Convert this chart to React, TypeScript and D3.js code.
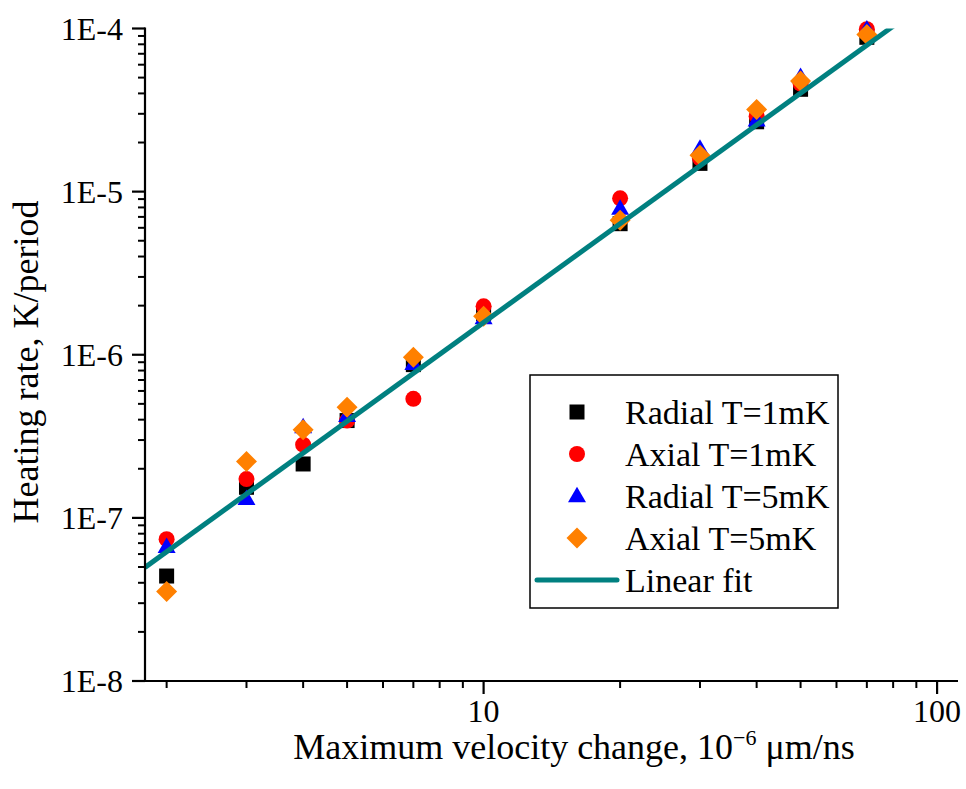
import React from "react";
import * as d3 from "d3";

const xValues = [2, 3, 4, 5, 7, 10, 20, 30, 40, 50, 70];
const radial1mK = [4.4e-8, 1.54e-7, 2.14e-7, 3.95e-7, 8.7e-7, 1.79e-6, 6.36e-6, 1.49e-5, 2.68e-5, 4.24e-5, 8.83e-5];
const axial1mK = [7.4e-8, 1.73e-7, 2.81e-7, 3.95e-7, 5.37e-7, 1.98e-6, 9.1e-6, 1.6e-5, 2.9e-5, 4.6e-5, 9.9e-5];
const radial5mK = [6.65e-8, 1.31e-7, 3.6e-7, 4.23e-7, 8.8e-7, 1.68e-6, 7.87e-6, 1.84e-5, 2.74e-5, 5.06e-5, 9.9e-5];
const axial5mK = [3.54e-8, 2.22e-7, 3.47e-7, 4.77e-7, 9.66e-7, 1.72e-6, 6.67e-6, 1.67e-5, 3.19e-5, 4.77e-5, 9.2e-5];

const fitSlope = 2.011;
const fitIntercept = -7.813;

const seriesNames = ["Radial T=1mK", "Axial T=1mK", "Radial T=5mK", "Axial T=5mK"];
const xTickLabels = ["10", "100"];
const yTickLabels = ["1E-8", "1E-7", "1E-6", "1E-5", "1E-4"];

const W = 966;
const H = 789;
const M = { left: 145, right: 958, top: 28.5, bottom: 681 };
const FONT = "'Liberation Serif', 'Times New Roman', serif";

const colors = ["#000000", "#ff0000", "#0000ff", "#ff8000"];
const shapes = ["square", "circle", "triangle", "diamond"];

function Marker({ shape, x, y, color }: { shape: string; x: number; y: number; color: string }) {
  if (shape === "square") return <rect x={x - 7.5} y={y - 7.5} width={15} height={15} fill={color} />;
  if (shape === "circle") return <circle cx={x} cy={y} r={8} fill={color} />;
  if (shape === "triangle") {
    const h = 15.5;
    return <path d={`M${x},${y - h * 0.6}L${x + 9},${y + h * 0.4}L${x - 9},${y + h * 0.4}Z`} fill={color} />;
  }
  const r = 10.5;
  return <path d={`M${x},${y - r}L${x + r},${y}L${x},${y + r}L${x - r},${y}Z`} fill={color} />;
}

export default function App() {
  const x = d3.scaleLog().domain([1.792, 111.2]).range([M.left, M.right]);
  const y = d3.scaleLog().domain([1e-8, 1e-4]).range([M.bottom, M.top]);

  const series = [radial1mK, axial1mK, radial5mK, axial5mK];

  const xMajor = [10, 100];
  const xMinor: number[] = [];
  [1, 10].forEach((d) => {
    for (let k = 2; k <= 9; k++) {
      const v = k * d;
      if (v >= 1.792 && v <= 111.2) xMinor.push(v);
    }
  });
  const yMajor = [1e-8, 1e-7, 1e-6, 1e-5, 1e-4];
  const yMinor: number[] = [];
  [1e-8, 1e-7, 1e-6, 1e-5].forEach((d) => {
    for (let k = 2; k <= 9; k++) yMinor.push(k * d);
  });

  const fitX = [1.792, 111.2];
  const fitLine = d3
    .line<number>()
    .x((d) => x(d))
    .y((d) => y(Math.pow(10, fitIntercept + fitSlope * Math.log10(d))));

  const legX = 530;
  const legY = 375;
  const rowH = 42;

  return (
    <svg width={W} height={H} style={{ position: "absolute", left: 0, top: 0, background: "#fff" }} fontFamily={FONT}>
      <defs>
        <clipPath id="plotclip">
          <rect x={M.left} y={M.top} width={M.right - M.left} height={M.bottom - M.top} />
        </clipPath>
      </defs>
      {series.map((vals, si) => (
        <g key={si}>
          {vals.map((v, i) => (
            <Marker key={i} shape={shapes[si]} x={x(xValues[i])} y={y(v)} color={colors[si]} />
          ))}
        </g>
      ))}
      <path d={fitLine(fitX) || ""} stroke="#008080" strokeWidth={5} fill="none" clipPath="url(#plotclip)" />
      <line x1={M.left} x2={M.left} y1={M.top - 1} y2={M.bottom + 1} stroke="#000" strokeWidth={2.2} />
      <line x1={M.left - 1} x2={M.right} y1={M.bottom} y2={M.bottom} stroke="#000" strokeWidth={2.2} />
      {xMajor.map((v) => (
        <line key={"xM" + v} x1={x(v)} x2={x(v)} y1={M.bottom} y2={M.bottom + 13} stroke="#000" strokeWidth={2.2} />
      ))}
      {xMinor.map((v) => (
        <line key={"xm" + v} x1={x(v)} x2={x(v)} y1={M.bottom} y2={M.bottom + 7} stroke="#000" strokeWidth={2} />
      ))}
      {yMajor.map((v) => (
        <line key={"yM" + v} x1={M.left - 13} x2={M.left} y1={y(v)} y2={y(v)} stroke="#000" strokeWidth={2.2} />
      ))}
      {yMinor.map((v) => (
        <line key={"ym" + v} x1={M.left - 7} x2={M.left} y1={y(v)} y2={y(v)} stroke="#000" strokeWidth={2} />
      ))}
      {xMajor.map((v, i) => (
        <text key={"xl" + v} x={x(v)} y={722} fontSize={32} textAnchor="middle" fill="#000">
          {xTickLabels[i]}
        </text>
      ))}
      {yMajor.map((v, i) => (
        <text key={"yl" + v} x={123} y={y(v)} dy="0.35em" fontSize={32} textAnchor="end" fill="#000">
          {yTickLabels[i]}
        </text>
      ))}
      <text x={574} y={759} fontSize={36} textAnchor="middle" fill="#000">
        Maximum velocity change, 10
        <tspan fontSize={22} dy={-14}>−6</tspan>
        <tspan dy={14}> μm/ns</tspan>
      </text>
      <text transform="translate(38,362) rotate(-90)" fontSize={36} textAnchor="middle" fill="#000">
        Heating rate, K/period
      </text>
      <rect x={legX} y={legY} width={308} height={233} fill="#fff" stroke="#000" strokeWidth={1.5} />
      {seriesNames.map((name, i) => {
        const cy = legY + 37 + i * rowH;
        return (
          <g key={name}>
            <Marker shape={shapes[i]} x={legX + 47} y={cy} color={colors[i]} />
            <text x={legX + 95} y={cy} dy="0.35em" fontSize={34} fill="#000">
              {name}
            </text>
          </g>
        );
      })}
      <line
        x1={legX + 7}
        x2={legX + 87}
        y1={legY + 37 + 4 * rowH}
        y2={legY + 37 + 4 * rowH}
        stroke="#008080"
        strokeWidth={5}
        strokeLinecap="round"
      />
      <text x={legX + 95} y={legY + 37 + 4 * rowH} dy="0.35em" fontSize={34} fill="#000">
        Linear fit
      </text>
    </svg>
  );
}
